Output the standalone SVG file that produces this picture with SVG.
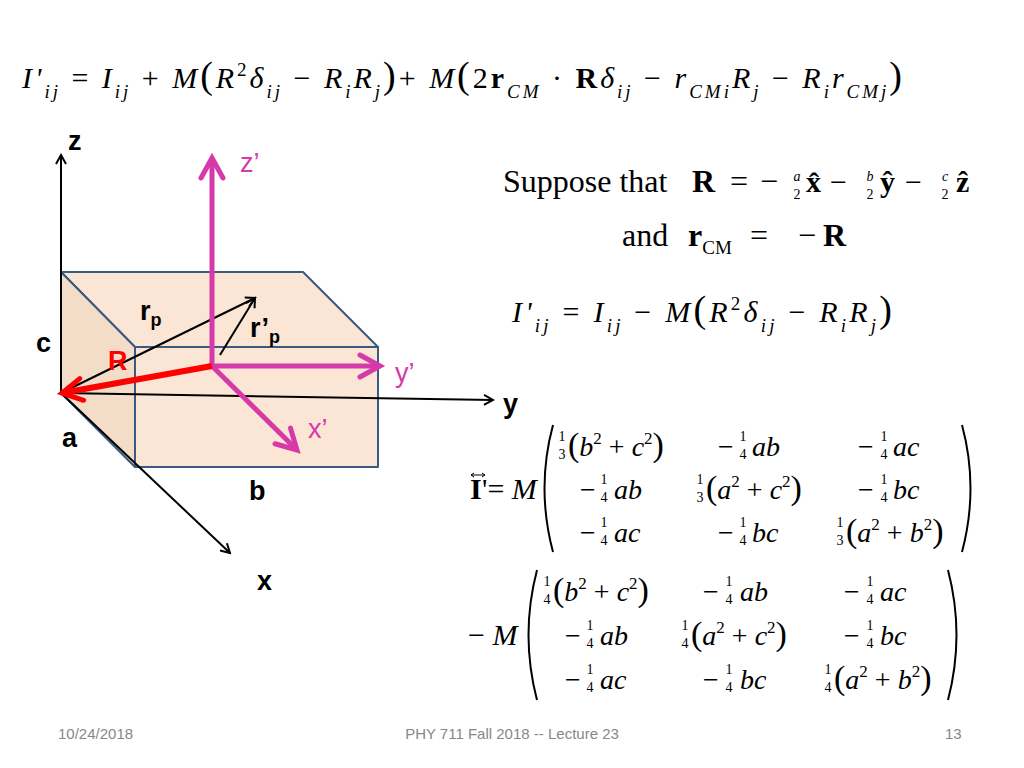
<svg xmlns="http://www.w3.org/2000/svg" width="1024" height="768" viewBox="0 0 1024 768">
<defs>
<marker id="ak" markerWidth="12" markerHeight="12" refX="10" refY="6" orient="auto" markerUnits="userSpaceOnUse"><path d="M1,1 L10,6 L1,11" fill="none" stroke="#000" stroke-width="2"/></marker>
<marker id="am" markerWidth="30" markerHeight="30" refX="24" refY="15" orient="auto" markerUnits="userSpaceOnUse"><path d="M4,4 L24,15 L4,26" fill="none" stroke="#d63aa8" stroke-width="5" stroke-linecap="round"/></marker>
<marker id="ar" markerWidth="30" markerHeight="30" refX="24" refY="15" orient="auto" markerUnits="userSpaceOnUse"><path d="M4,4 L24,15 L4,26" fill="none" stroke="#f00" stroke-width="5" stroke-linecap="round"/></marker>
</defs>
<style>
.m{font-family:"Liberation Serif",serif;font-style:italic;font-size:30px;fill:#000}
.n{font-family:"Liberation Serif",serif;font-size:30px;fill:#000}
.t{font-family:"Liberation Serif",serif;font-size:32px;fill:#000}
.f{font-family:"Liberation Serif",serif;font-size:14px;fill:#000;text-anchor:middle}
.e{font-family:"Liberation Serif",serif;font-style:italic;font-size:28px;fill:#000}
.lb{font-family:"Liberation Sans",Arial,sans-serif;font-weight:bold;font-size:27px;fill:#000}
.lm{font-family:"Liberation Sans",Arial,sans-serif;font-size:27px;fill:#d63aa8}
.ft{font-family:"Liberation Sans",Arial,sans-serif;font-size:15px;fill:#888}
.k{fill:none;stroke:#000;stroke-width:2}
</style>
<rect width="1024" height="768" fill="#fff"/>
<g id="box" stroke="#3a5a80" stroke-width="2" stroke-linejoin="round">
<polygon points="61,272 303,272 378,347 135,347" fill="#fbe5d4"/>
<polygon points="61,272 135,347 135,467 61,393" fill="#f3dcc8"/>
<rect x="135" y="347" width="243" height="120" fill="#fbe5d4"/>
</g>
<g id="connectors">
<line x1="61" y1="393" x2="61" y2="155" class="k" marker-end="url(#ak)"/>
<line x1="61" y1="393" x2="493" y2="400" class="k" marker-end="url(#ak)"/>
<line x1="61" y1="393" x2="230" y2="553" class="k" marker-end="url(#ak)"/>
<line x1="61" y1="393" x2="255" y2="298" class="k" marker-end="url(#ak)"/>
<line x1="220" y1="355" x2="255" y2="298" class="k" marker-end="url(#ak)"/>
<line x1="212" y1="366" x2="212" y2="158" stroke="#d63aa8" stroke-width="5" marker-end="url(#am)"/>
<line x1="212" y1="366" x2="380" y2="366" stroke="#d63aa8" stroke-width="5" marker-end="url(#am)"/>
<line x1="212" y1="366" x2="297" y2="450" stroke="#d63aa8" stroke-width="5" marker-end="url(#am)"/>
<line x1="212" y1="366" x2="62" y2="393" stroke="#f00" stroke-width="6" marker-end="url(#ar)"/>
</g>
<g id="labels">
<text x="68" y="150" class="lb">z</text>
<text x="240" y="172" class="lm">z’</text>
<text x="36" y="352" class="lb">c</text>
<text x="108" y="370" class="lb" style="fill:#f00">R</text>
<text x="140" y="320" class="lb">r<tspan font-size="18" dy="6">p</tspan></text>
<text x="250" y="337" class="lb">r’<tspan font-size="18" dy="6">p</tspan></text>
<text x="395" y="382" class="lm">y’</text>
<text x="503" y="413" class="lb">y</text>
<text x="308" y="438" class="lm">x’</text>
<text x="62" y="447" class="lb">a</text>
<text x="249" y="500" class="lb">b</text>
<text x="257" y="590" class="lb">x</text>
</g>
<g id="eq1">
<text x="22" y="88" class="m" textLength="880" lengthAdjust="spacing">I'<tspan font-size="19" dy="10">ij</tspan><tspan dy="-10" font-style="normal"> = </tspan>I<tspan font-size="19" dy="10">ij</tspan><tspan dy="-10" font-style="normal"> + </tspan>M<tspan font-style="normal" font-size="38">(</tspan>R<tspan font-size="19" dy="-12" font-style="normal">2</tspan><tspan dy="12">δ</tspan><tspan font-size="19" dy="10">ij</tspan><tspan dy="-10" font-style="normal"> − </tspan>R<tspan font-size="19" dy="10">i</tspan><tspan dy="-10">R</tspan><tspan font-size="19" dy="10">j</tspan><tspan dy="-10" font-style="normal" font-size="38">)</tspan><tspan font-style="normal">+ </tspan>M<tspan font-style="normal" font-size="38">(</tspan><tspan font-style="normal">2</tspan><tspan font-style="normal" font-weight="bold">r</tspan><tspan font-size="19" dy="10">CM</tspan><tspan dy="-10" font-style="normal"> · </tspan><tspan font-style="normal" font-weight="bold">R</tspan>δ<tspan font-size="19" dy="10">ij</tspan><tspan dy="-10" font-style="normal"> − </tspan>r<tspan font-size="19" dy="10">CMi</tspan><tspan dy="-10">R</tspan><tspan font-size="19" dy="10">j</tspan><tspan dy="-10" font-style="normal"> − </tspan>R<tspan font-size="19" dy="10">i</tspan><tspan dy="-10">r</tspan><tspan font-size="19" dy="10">CMj</tspan><tspan dy="-10" font-style="normal" font-size="38">)</tspan></text>
</g>
<g id="suppose">
<text x="503" y="192" class="t">Suppose that</text>
<text x="692" y="192" class="t" font-weight="bold">R</text>
<text x="730" y="192" class="t">=</text>
<text x="760" y="192" class="t">−</text>
<text x="797" y="181" class="f" font-style="italic">a</text><text x="797" y="199" class="f">2</text>
<text x="806" y="192" class="n" font-weight="bold">x̂</text><text x="830" y="192" class="n">−</text>
<text x="870" y="181" class="f" font-style="italic">b</text><text x="870" y="199" class="f">2</text>
<text x="880" y="192" class="n" font-weight="bold">ŷ</text><text x="905" y="192" class="n">−</text>
<text x="945" y="181" class="f" font-style="italic">c</text><text x="945" y="199" class="f">2</text>
<text x="956" y="192" class="n" font-weight="bold">ẑ</text>
<text x="622" y="246" class="t">and</text>
<text x="688" y="246" class="t"><tspan font-weight="bold">r</tspan><tspan font-size="19" dy="8">CM</tspan></text>
<text x="750" y="246" class="t">=</text>
<text x="798" y="246" class="t">−</text>
<text x="823" y="246" class="t" font-weight="bold">R</text>
</g>
<g id="eq2">
<text x="512" y="322" class="m" textLength="380" lengthAdjust="spacing">I'<tspan font-size="19" dy="10">ij</tspan><tspan dy="-10" font-style="normal"> = </tspan>I<tspan font-size="19" dy="10">ij</tspan><tspan dy="-10" font-style="normal"> − </tspan>M<tspan font-style="normal" font-size="38">(</tspan>R<tspan font-size="19" dy="-12" font-style="normal">2</tspan><tspan dy="12">δ</tspan><tspan font-size="19" dy="10">ij</tspan><tspan dy="-10" font-style="normal"> − </tspan>R<tspan font-size="19" dy="10">i</tspan><tspan dy="-10">R</tspan><tspan font-size="19" dy="10">j</tspan><tspan dy="-10" font-style="normal" font-size="38">)</tspan></text>
</g>
<g id="matrix1">
<path d="M471,475 H485 M471,475 l3,-2 M471,475 l3,2 M485,475 l-3,-2 M485,475 l-3,2" stroke="#000" stroke-width="1" fill="none"/>
<text x="470" y="499" class="n" font-weight="bold">I</text>
<text x="482" y="499" class="n">'= <tspan font-style="italic">M</tspan></text>
<path d="M553,425 Q536,488 553,552" class="k" stroke-width="1.5"/>
<path d="M962,425 Q979,488 962,552" class="k" stroke-width="1.5"/>
<text x="562" y="441" class="f">1</text><text x="562" y="459" class="f">3</text>
<text x="568" y="456" class="e"><tspan font-style="normal" font-size="34">(</tspan>b<tspan font-size="17" dy="-12" font-style="normal">2</tspan><tspan dy="12" font-style="normal"> + </tspan>c<tspan font-size="17" dy="-12" font-style="normal">2</tspan><tspan dy="12" font-style="normal" font-size="34">)</tspan></text>
<text x="716" y="456" class="e" font-style="normal">−</text><text x="743" y="441" class="f">1</text><text x="743" y="459" class="f">4</text><text x="752" y="456" class="e">ab</text>
<text x="856" y="456" class="e" font-style="normal">−</text><text x="884" y="441" class="f">1</text><text x="884" y="459" class="f">4</text><text x="893" y="456" class="e">ac</text>
<text x="578" y="499" class="e" font-style="normal">−</text><text x="604" y="484" class="f">1</text><text x="604" y="502" class="f">4</text><text x="614" y="499" class="e">ab</text>
<text x="700" y="484" class="f">1</text><text x="700" y="502" class="f">3</text>
<text x="706" y="499" class="e"><tspan font-style="normal" font-size="34">(</tspan>a<tspan font-size="17" dy="-12" font-style="normal">2</tspan><tspan dy="12" font-style="normal"> + </tspan>c<tspan font-size="17" dy="-12" font-style="normal">2</tspan><tspan dy="12" font-style="normal" font-size="34">)</tspan></text>
<text x="856" y="499" class="e" font-style="normal">−</text><text x="884" y="484" class="f">1</text><text x="884" y="502" class="f">4</text><text x="893" y="499" class="e">bc</text>
<text x="578" y="542" class="e" font-style="normal">−</text><text x="604" y="527" class="f">1</text><text x="604" y="545" class="f">4</text><text x="614" y="542" class="e">ac</text>
<text x="716" y="542" class="e" font-style="normal">−</text><text x="743" y="527" class="f">1</text><text x="743" y="545" class="f">4</text><text x="752" y="542" class="e">bc</text>
<text x="840" y="527" class="f">1</text><text x="840" y="545" class="f">3</text>
<text x="846" y="542" class="e"><tspan font-style="normal" font-size="34">(</tspan>a<tspan font-size="17" dy="-12" font-style="normal">2</tspan><tspan dy="12" font-style="normal"> + </tspan>b<tspan font-size="17" dy="-12" font-style="normal">2</tspan><tspan dy="12" font-style="normal" font-size="34">)</tspan></text>
</g>
<g id="matrix2">
<text x="468" y="645" class="n">−  <tspan font-style="italic">M</tspan></text>
<path d="M537,570 Q520,635 537,700" class="k" stroke-width="1.5"/>
<path d="M948,570 Q965,635 948,700" class="k" stroke-width="1.5"/>
<text x="547" y="586" class="f">1</text><text x="547" y="604" class="f">4</text>
<text x="553" y="601" class="e"><tspan font-style="normal" font-size="34">(</tspan>b<tspan font-size="17" dy="-12" font-style="normal">2</tspan><tspan dy="12" font-style="normal"> + </tspan>c<tspan font-size="17" dy="-12" font-style="normal">2</tspan><tspan dy="12" font-style="normal" font-size="34">)</tspan></text>
<text x="701" y="601" class="e" font-style="normal">−</text><text x="729" y="586" class="f">1</text><text x="729" y="604" class="f">4</text><text x="740" y="601" class="e">ab</text>
<text x="842" y="601" class="e" font-style="normal">−</text><text x="870" y="586" class="f">1</text><text x="870" y="604" class="f">4</text><text x="880" y="601" class="e">ac</text>
<text x="563" y="645" class="e" font-style="normal">−</text><text x="590" y="630" class="f">1</text><text x="590" y="648" class="f">4</text><text x="600" y="645" class="e">ab</text>
<text x="685" y="630" class="f">1</text><text x="685" y="648" class="f">4</text>
<text x="691" y="645" class="e"><tspan font-style="normal" font-size="34">(</tspan>a<tspan font-size="17" dy="-12" font-style="normal">2</tspan><tspan dy="12" font-style="normal"> + </tspan>c<tspan font-size="17" dy="-12" font-style="normal">2</tspan><tspan dy="12" font-style="normal" font-size="34">)</tspan></text>
<text x="842" y="645" class="e" font-style="normal">−</text><text x="870" y="630" class="f">1</text><text x="870" y="648" class="f">4</text><text x="880" y="645" class="e">bc</text>
<text x="563" y="689" class="e" font-style="normal">−</text><text x="590" y="674" class="f">1</text><text x="590" y="692" class="f">4</text><text x="600" y="689" class="e">ac</text>
<text x="701" y="689" class="e" font-style="normal">−</text><text x="729" y="674" class="f">1</text><text x="729" y="692" class="f">4</text><text x="740" y="689" class="e">bc</text>
<text x="828" y="674" class="f">1</text><text x="828" y="692" class="f">4</text>
<text x="834" y="689" class="e"><tspan font-style="normal" font-size="34">(</tspan>a<tspan font-size="17" dy="-12" font-style="normal">2</tspan><tspan dy="12" font-style="normal"> + </tspan>b<tspan font-size="17" dy="-12" font-style="normal">2</tspan><tspan dy="12" font-style="normal" font-size="34">)</tspan></text>
</g>
<g id="footer">
<text x="58" y="739" class="ft">10/24/2018</text>
<text x="512" y="739" class="ft" text-anchor="middle">PHY 711  Fall 2018 -- Lecture 23</text>
<text x="945" y="739" class="ft">13</text>
</g>
</svg>
